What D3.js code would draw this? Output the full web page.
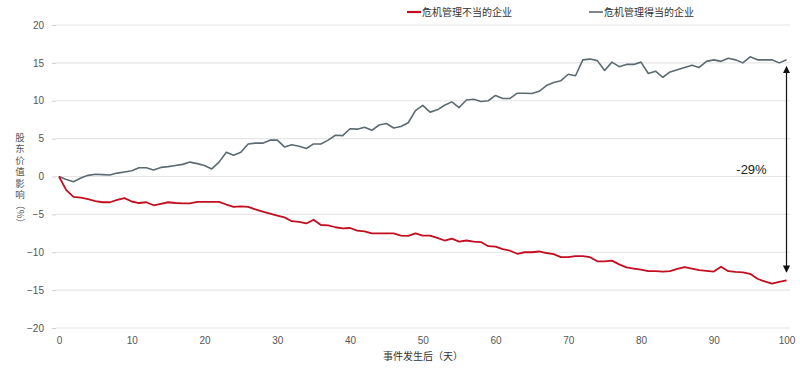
<!DOCTYPE html>
<html>
<head>
<meta charset="utf-8">
<script src="https://cdn.jsdelivr.net/npm/d3@7"></script>
<style>
  body { margin: 0; background: #fff; }
  text { font-family: "Noto Sans CJK SC", "Noto Sans", sans-serif; }
</style>
</head>
<body>
<div id="chart"></div>
<script>
var svgWidth = 800;
var svgHeight = 370;

var margin = { top: 25, right: 13, bottom: 42, left: 59 };
var width = svgWidth - margin.left - margin.right;
var height = svgHeight - margin.top - margin.bottom;

// data, one value per day (0..100)
var days = d3.range(0, 101);
var poorValues = [
    0, -1.8, -2.7, -2.8, -3.0, -3.25, -3.4, -3.4, -3.1, -2.85,
    -3.3, -3.5, -3.4, -3.8, -3.6, -3.4, -3.5, -3.55, -3.55, -3.35,
    -3.35, -3.35, -3.35, -3.7, -4.0, -3.95, -4.0, -4.35, -4.65, -4.9,
    -5.15, -5.4, -5.9, -6.0, -6.2, -5.7, -6.4, -6.45, -6.7, -6.85,
    -6.8, -7.15, -7.25, -7.5, -7.5, -7.5, -7.5, -7.8, -7.85, -7.5,
    -7.8, -7.8, -8.1, -8.45, -8.2, -8.6, -8.45, -8.6, -8.65, -9.2,
    -9.25, -9.6, -9.8, -10.2, -10.0, -10.0, -9.9, -10.1, -10.25, -10.65,
    -10.65, -10.5, -10.5, -10.65, -11.2, -11.2, -11.1, -11.6, -12.0, -12.15,
    -12.3, -12.5, -12.5, -12.55, -12.5, -12.2, -11.95, -12.15, -12.35, -12.45,
    -12.55, -11.9, -12.5, -12.6, -12.65, -12.85, -13.5, -13.85, -14.15, -13.9,
    -13.7
];
var goodValues = [
    0, -0.4, -0.7, -0.2, 0.15, 0.3, 0.25, 0.2, 0.45, 0.6,
    0.75, 1.15, 1.15, 0.85, 1.2, 1.3, 1.45, 1.6, 1.9, 1.7,
    1.45, 1.0, 1.9, 3.2, 2.8, 3.2, 4.3, 4.4, 4.4, 4.8,
    4.8, 3.9, 4.2, 4.0, 3.7, 4.3, 4.3, 4.8, 5.45, 5.4,
    6.3, 6.25, 6.5, 6.1, 6.8, 7.0, 6.4, 6.6, 7.1, 8.7,
    9.4, 8.5, 8.8, 9.4, 9.85, 9.1, 10.1, 10.2, 9.9, 10.0,
    10.7, 10.3, 10.3, 11.0, 11.0, 10.95, 11.25, 12.0, 12.4, 12.65,
    13.5, 13.3, 15.4, 15.5, 15.3, 14.0, 15.1, 14.5, 14.8, 14.8,
    15.1, 13.6, 13.9, 13.1, 13.8, 14.1, 14.4, 14.7, 14.4, 15.2,
    15.4, 15.2, 15.6, 15.4, 15.0, 15.8, 15.4, 15.4, 15.4, 15.0,
    15.4
];
var xTicks = [0, 10, 20, 30, 40, 50, 60, 70, 80, 90, 100];
var yTicks = [20, 15, 10, 5, 0, -5, -10, -15, -20];
var seriesNames = ["危机管理不当的企业", "危机管理得当的企业"];
var seriesColors = ["#c20e1f", "#5c6a72"];
var gapLabel = "-29%";
var gapRange = [14.5, -12.6];

var svg = d3.select("#chart")
    .append("svg")
    .attr("width", svgWidth)
    .attr("height", svgHeight);

var chartGroup = svg.append("g")
    .attr("transform", `translate(${margin.left}, ${margin.top})`);

var xScale = d3.scaleLinear().domain([0, 100]).range([0, width - 0.5]);
var yScale = d3.scaleLinear().domain([-20, 20]).range([height, 0]);

// gridlines
chartGroup.append("g")
    .selectAll("line")
    .data(yTicks)
    .enter()
    .append("line")
    .attr("x1", -3)
    .attr("x2", width + 3)
    .attr("y1", d => yScale(d))
    .attr("y2", d => yScale(d))
    .attr("stroke", "#e6e6e6")
    .attr("stroke-width", 1.2);

var leftAxis = d3.axisLeft(yScale).tickValues(yTicks).tickSize(4).tickPadding(8);
var yAxisG = chartGroup.append("g")
    .attr("transform", "translate(-3,0)")
    .call(leftAxis);
yAxisG.select(".domain").remove();
yAxisG.selectAll("line").attr("stroke", "#cfcfcf");
yAxisG.selectAll("text")
    .attr("font-size", "10px")
    .attr("fill", "#555")
    .style("font-family", "Liberation Sans, Arial, sans-serif");

var bottomAxis = d3.axisBottom(xScale).tickValues(xTicks).tickSize(0).tickPadding(9);
var xAxisG = chartGroup.append("g")
    .attr("transform", `translate(0, ${height})`)
    .call(bottomAxis);
xAxisG.select(".domain").remove();
xAxisG.selectAll("text")
    .attr("font-size", "10px")
    .attr("fill", "#555")
    .style("font-family", "Liberation Sans, Arial, sans-serif");

var line = d3.line()
    .x((d, i) => xScale(days[i]))
    .y(d => yScale(d));

chartGroup.append("path")
    .datum(goodValues)
    .attr("fill", "none")
    .attr("stroke", seriesColors[1])
    .attr("stroke-width", 1.6)
    .attr("stroke-linejoin", "round")
    .attr("d", line);

chartGroup.append("path")
    .datum(poorValues)
    .attr("fill", "none")
    .attr("stroke", seriesColors[0])
    .attr("stroke-width", 1.8)
    .attr("stroke-linejoin", "round")
    .attr("d", line);

// arrow showing the gap
var defs = svg.append("defs");
defs.append("marker")
    .attr("id", "arrowhead")
    .attr("viewBox", "0 0 10 10")
    .attr("refX", 9)
    .attr("refY", 5)
    .attr("markerWidth", 6)
    .attr("markerHeight", 6)
    .attr("orient", "auto-start-reverse")
    .append("path")
    .attr("d", "M0,0 L10,5 L0,10 z")
    .attr("fill", "#111");

chartGroup.append("line")
    .attr("x1", xScale(100))
    .attr("x2", xScale(100))
    .attr("y1", yScale(gapRange[0]))
    .attr("y2", yScale(gapRange[1]))
    .attr("stroke", "#111")
    .attr("stroke-width", 1.2)
    .attr("marker-start", "url(#arrowhead)")
    .attr("marker-end", "url(#arrowhead)");

chartGroup.append("text")
    .attr("x", xScale(100) - 35)
    .attr("y", yScale((gapRange[0] + gapRange[1]) / 2) + 5)
    .attr("text-anchor", "middle")
    .attr("font-size", "13px")
    .attr("fill", "#222")
    .style("font-family", "Liberation Sans, Arial, sans-serif")
    .text(gapLabel);

// y title: stacked characters, then the unit turned sideways
var yTitleChars = "股东价值影响".split("");
var yTitle = svg.append("g")
    .attr("font-size", "9.5px")
    .attr("fill", "#555");
yTitleChars.forEach((c, i) => {
    yTitle.append("text")
        .attr("x", 20)
        .attr("y", 141 + i * 11.4)
        .attr("text-anchor", "middle")
        .text(c);
});
yTitle.append("text")
    .attr("transform", "translate(16.5, 214) rotate(90)")
    .attr("text-anchor", "middle")
    .text("（%）");

svg.append("text")
    .attr("x", margin.left + width / 2)
    .attr("y", 360)
    .attr("text-anchor", "middle")
    .attr("font-size", "10px")
    .attr("fill", "#333")
    .text("事件发生后（天）");

// legend
var legendX = [407, 589];
var legend = svg.append("g");
seriesNames.forEach((name, i) => {
    legend.append("line")
        .attr("x1", legendX[i])
        .attr("x2", legendX[i] + 14)
        .attr("y1", 12)
        .attr("y2", 12)
        .attr("stroke", seriesColors[i])
        .attr("stroke-width", i === 0 ? 2.2 : 1.6);
    legend.append("text")
        .attr("x", legendX[i] + 15)
        .attr("y", 16)
        .attr("font-size", "10px")
        .attr("fill", "#333")
        .text(name);
});
</script>
</body>
</html>
